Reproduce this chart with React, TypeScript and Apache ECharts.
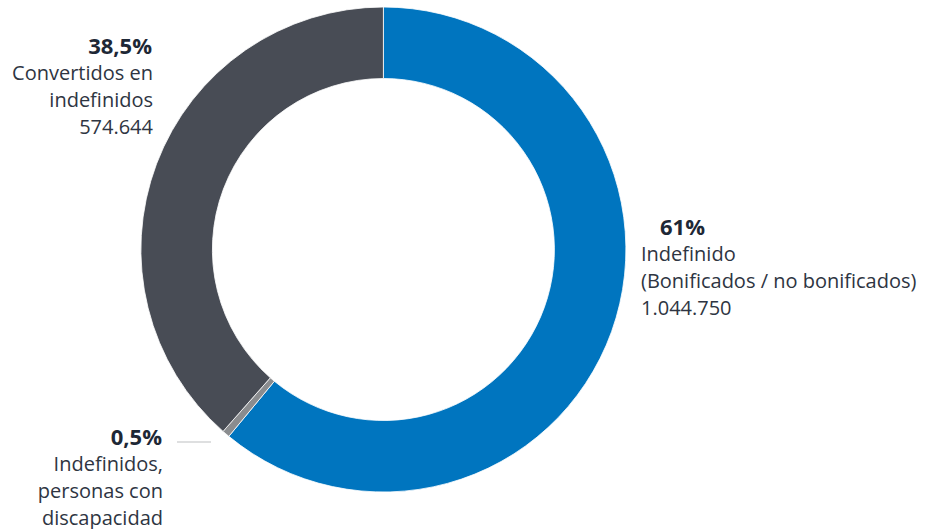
import React, { useEffect, useRef } from "react";
import * as echarts from "echarts";

const categories = [
  "Indefinido (Bonificados / no bonificados)",
  "Indefinidos, personas con discapacidad",
  "Convertidos en indefinidos",
];
const shares = [61, 0.5, 38.5];
const shareLabels = ["61%", "0,5%", "38,5%"];
const nameLines = [
  ["Indefinido", "(Bonificados / no bonificados)", "1.044.750"],
  ["Indefinidos,", "personas con", "discapacidad"],
  ["Convertidos en", "indefinidos", "574.644"],
];
const colors = ["#0075BF", "#8A8C8F", "#484C55"];

// label layout (x, first-line y, alignment, bold offset)
const labelLayout = [
  { x: 641, y: 226, align: "left", boldX: 660, lh: 27 },
  { x: 163, y: 436, align: "right", boldX: 162, lh: 27 },
  { x: 153, y: 45, align: "right", boldX: 152, lh: 27 },
];

const FONT = "'Open Sans', 'Noto Sans', sans-serif";
const TEXT_COLOR = "#2E3542";

export default function App() {
  const ref = useRef<HTMLDivElement>(null);
  useEffect(() => {
    if (!ref.current) return;
    const chart = echarts.init(ref.current, undefined, { renderer: "svg" });
    const graphics: any[] = [];
    labelLayout.forEach((l, i) => {
      graphics.push({
        type: "text",
        x: l.boldX,
        y: l.y,
        style: {
          text: shareLabels[i],
          font: `bold 22px ${FONT}`,
          fill: "#1E2836",
          align: l.align,
          verticalAlign: "middle",
        },
      });
      nameLines[i].forEach((t, j) => {
        graphics.push({
          type: "text",
          x: l.x,
          y: l.y + l.lh * (j + 1),
          style: {
            text: t,
            font: `20px ${FONT}`,
            fill: TEXT_COLOR,
            align: l.align,
            verticalAlign: "middle",
          },
        });
      });
    });
    graphics.push({
      type: "line",
      shape: { x1: 177, y1: 442, x2: 211, y2: 442 },
      style: { stroke: "#BDBFC1", lineWidth: 1.2 },
    });
    chart.setOption({
      animation: false,
      backgroundColor: "#FFFFFF",
      graphic: graphics,
      series: [
        {
          type: "pie",
          center: [383.4, 249.5],
          radius: [171, 242.5],
          startAngle: 90,
          clockwise: true,
          label: { show: false },
          labelLine: { show: false },
          silent: true,
          itemStyle: { borderColor: "#FFFFFF", borderWidth: 0.8 },
          data: categories.map((c, i) => ({
            name: c,
            value: shares[i],
            itemStyle: { color: colors[i] },
          })),
        },
      ],
    });
    return () => chart.dispose();
  }, []);
  return (
    <div
      ref={ref}
      style={{ position: "fixed", left: 0, top: 0, width: 930, height: 529 }}
    />
  );
}
